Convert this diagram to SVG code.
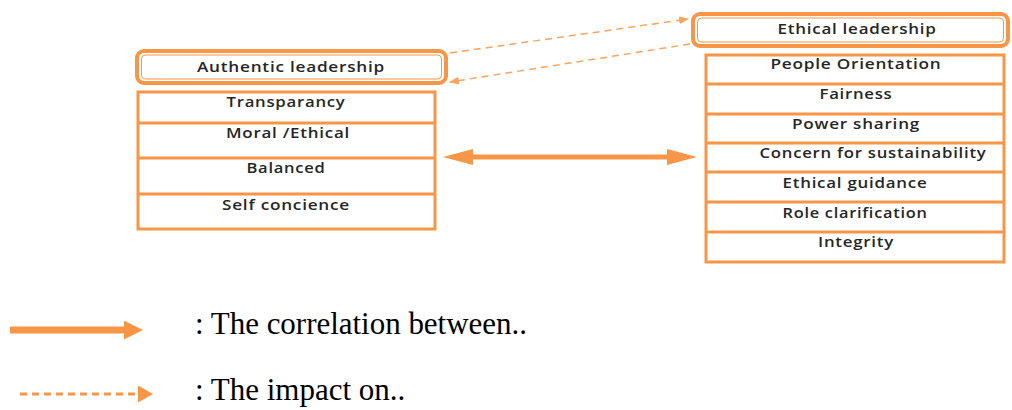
<svg xmlns="http://www.w3.org/2000/svg" width="1012" height="410" viewBox="0 0 1012 410">
  <style>
    .hdr-out { fill: #ffffff; stroke: #F79646; stroke-width: 4; }
    .hdr-in { fill: none; stroke: #F79646; stroke-width: 1; }
    .tbl { fill: #ffffff; stroke: #F79646; stroke-width: 3; }
    .row { stroke: #F79646; stroke-width: 3; }
    .lbl { font-family: "Open Sans", "Liberation Sans", sans-serif; font-size: 13.5px; font-weight: 600; fill: #262626; text-anchor: middle; letter-spacing: 0.6px; }
    .legend-txt { font-family: "Liberation Serif", "Times New Roman", serif; font-size: 31px; fill: #000000; }
    .impact { fill: none; stroke: #F9A560; stroke-width: 1.5; stroke-dasharray: 7 5; }
    .corr { fill: none; stroke: #F79646; stroke-width: 5; }
  </style>
  <defs>
    <marker id="headCorr" markerUnits="userSpaceOnUse" markerWidth="30" markerHeight="16" refX="18" refY="8" orient="auto-start-reverse">
      <path d="M0,0 L30,8 L0,16 Z" fill="#F79646"/>
    </marker>
    <marker id="headImpact" markerUnits="userSpaceOnUse" markerWidth="10" markerHeight="8" refX="9" refY="4" orient="auto">
      <path d="M0,0 L10,4 L0,8 Z" fill="#F9A560"/>
    </marker>
    <marker id="headLegendSolid" markerUnits="userSpaceOnUse" markerWidth="19" markerHeight="19" refX="6" refY="9.5" orient="auto">
      <path d="M0,0 L19,9.5 L0,19 Z" fill="#F79646"/>
    </marker>
    <marker id="headLegendDash" markerUnits="userSpaceOnUse" markerWidth="15" markerHeight="17" refX="2" refY="8.5" orient="auto">
      <path d="M0,0 L15,8.5 L0,17 Z" fill="#F79646"/>
    </marker>
  </defs>

  <!-- Authentic leadership header -->
  <g id="authentic-leadership">
    <rect class="hdr-out" x="137" y="51" width="309" height="32" rx="7"/>
    <rect class="hdr-in" x="141.5" y="55" width="300" height="24" rx="4"/>
    <text class="lbl" x="291" y="72" textLength="188" lengthAdjust="spacingAndGlyphs">Authentic leadership</text>
  </g>

  <!-- Authentic leadership dimensions -->
  <g id="authentic-dimensions">
    <rect class="tbl" x="138" y="92" width="297" height="137"/>
    <line class="row" x1="138" y1="123" x2="435" y2="123"/>
    <line class="row" x1="138" y1="158" x2="435" y2="158"/>
    <line class="row" x1="138" y1="194" x2="435" y2="194"/>
    <text class="lbl" x="286" y="107" textLength="119" lengthAdjust="spacingAndGlyphs">Transparancy</text>
    <text class="lbl" x="288" y="138" textLength="124" lengthAdjust="spacingAndGlyphs">Moral /Ethical</text>
    <text class="lbl" x="286" y="173" textLength="79" lengthAdjust="spacingAndGlyphs">Balanced</text>
    <text class="lbl" x="286" y="210" textLength="128" lengthAdjust="spacingAndGlyphs">Self concience</text>
  </g>

  <!-- Ethical leadership header -->
  <g id="ethical-leadership">
    <rect class="hdr-out" x="693" y="14" width="315" height="32" rx="7"/>
    <rect class="hdr-in" x="697.5" y="18" width="306" height="24" rx="4"/>
    <text class="lbl" x="857" y="34" textLength="159" lengthAdjust="spacingAndGlyphs">Ethical leadership</text>
  </g>

  <!-- Ethical leadership dimensions -->
  <g id="ethical-dimensions">
    <rect class="tbl" x="706" y="55" width="298" height="207"/>
    <line class="row" x1="706" y1="84" x2="1004" y2="84"/>
    <line class="row" x1="706" y1="114" x2="1004" y2="114"/>
    <line class="row" x1="706" y1="143" x2="1004" y2="143"/>
    <line class="row" x1="706" y1="172" x2="1004" y2="172"/>
    <line class="row" x1="706" y1="202" x2="1004" y2="202"/>
    <line class="row" x1="706" y1="232" x2="1004" y2="232"/>
    <text class="lbl" x="856" y="69" textLength="171" lengthAdjust="spacingAndGlyphs">People Orientation</text>
    <text class="lbl" x="856" y="99" textLength="73" lengthAdjust="spacingAndGlyphs">Fairness</text>
    <text class="lbl" x="856" y="129" textLength="128" lengthAdjust="spacingAndGlyphs">Power sharing</text>
    <text class="lbl" x="873" y="158" textLength="227" lengthAdjust="spacingAndGlyphs">Concern for sustainability</text>
    <text class="lbl" x="855" y="188" textLength="145" lengthAdjust="spacingAndGlyphs">Ethical guidance</text>
    <text class="lbl" x="855" y="218" textLength="145" lengthAdjust="spacingAndGlyphs">Role clarification</text>
    <text class="lbl" x="856" y="247" textLength="76" lengthAdjust="spacingAndGlyphs">Integrity</text>
  </g>

  <!-- Connectors -->
  <g id="connectors">
    <line class="impact" x1="450" y1="53" x2="688" y2="19" marker-end="url(#headImpact)"/>
    <line class="impact" x1="690" y1="44" x2="450" y2="82" marker-end="url(#headImpact)"/>
    <line class="corr" x1="455" y1="157" x2="685" y2="157" marker-start="url(#headCorr)" marker-end="url(#headCorr)"/>
  </g>

  <!-- Legend -->
  <g id="legend">
    <line x1="10" y1="330" x2="130" y2="330" stroke="#F79646" stroke-width="7" marker-end="url(#headLegendSolid)"/>
    <text class="legend-txt" x="195" y="334" textLength="332" lengthAdjust="spacing">: The correlation between..</text>
    <line x1="20" y1="394" x2="140" y2="394" stroke="#F79646" stroke-width="3" stroke-dasharray="7 5" marker-end="url(#headLegendDash)"/>
    <text class="legend-txt" x="195" y="400">: The impact on..</text>
  </g>
</svg>
